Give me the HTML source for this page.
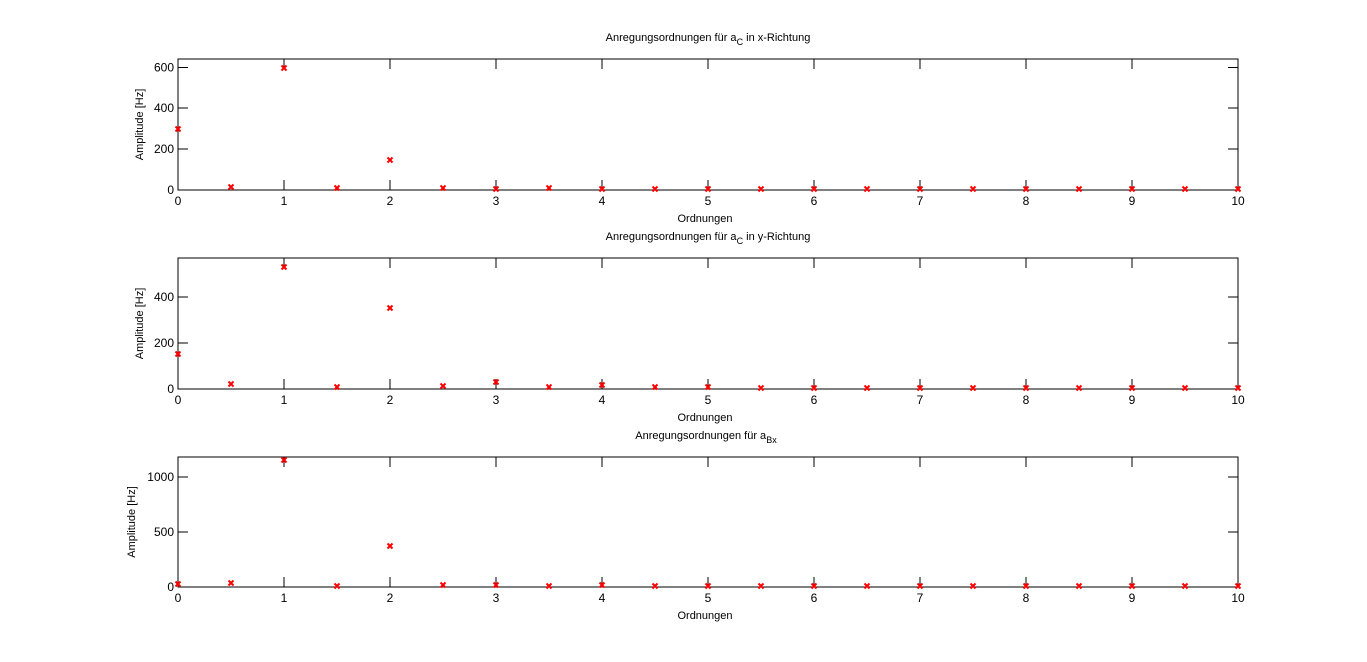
<!DOCTYPE html>
<html><head><meta charset="utf-8"><style>
html,body{margin:0;padding:0;background:#fff;}
svg{display:block;font-family:"Liberation Sans",sans-serif;}
</style></head><body>
<svg id="s" width="1367" height="662" xmlns="http://www.w3.org/2000/svg"></svg>
<script>
var s=document.getElementById('s'),h='';
var X0=178,X1=1238;
function px(x){return X0+x*(X1-X0)/10;}
var plots=[
 {top:59,bot:190,title:'Anregungsordnungen für a',sub:'C',suf:' in x-Richtung',tx:708,
  yt:[[0,190],[200,149],[400,108],[600,67.5]],
  pts:[129,187,68,188,160,188,189,188,189,189,189,189,189,189,189,189,189,189,189,189,189]},
 {top:258,bot:389,title:'Anregungsordnungen für a',sub:'C',suf:' in y-Richtung',tx:708,
  yt:[[0,389],[200,343],[400,297]],
  pts:[354,384,267,387,308,386,382,387,385,387,387,388,388,388,388,388,388,388,388,388,388]},
 {top:457,bot:587,title:'Anregungsordnungen für a',sub:'Bx',suf:'',tx:706,
  yt:[[0,587],[500,532],[1000,477]],
  pts:[584,583,460,586,546,585,585,586,585,586,586,586,586,586,586,586,586,586,586,586,586]}
];
plots.forEach(function(p){
 h+='<rect x="'+X0+'" y="'+p.top+'" width="'+(X1-X0)+'" height="'+(p.bot-p.top)+'" fill="none" stroke="#000" stroke-width="1"/>';
 for(var i=0;i<=10;i++){var x=px(i);
  h+='<line x1="'+x+'" y1="'+p.bot+'" x2="'+x+'" y2="'+(p.bot-10)+'" stroke="#000"/>';
  h+='<line x1="'+x+'" y1="'+p.top+'" x2="'+x+'" y2="'+(p.top+10)+'" stroke="#000"/>';
  h+='<text x="'+x+'" y="'+(p.bot+15)+'" font-size="12" text-anchor="middle">'+i+'</text>';}
 p.yt.forEach(function(t){
  h+='<line x1="'+X0+'" y1="'+t[1]+'" x2="'+(X0+10)+'" y2="'+t[1]+'" stroke="#000"/>';
  h+='<line x1="'+X1+'" y1="'+t[1]+'" x2="'+(X1-10)+'" y2="'+t[1]+'" stroke="#000"/>';
  h+='<text x="'+(X0-4)+'" y="'+(t[1]+4)+'" font-size="12" text-anchor="end">'+t[0]+'</text>';});
 h+='<text x="'+p.tx+'" y="'+(p.top-18)+'" font-size="11" text-anchor="middle">'+p.title+'<tspan font-size="9" dy="4">'+p.sub+'</tspan><tspan dy="-4">'+p.suf+'</tspan></text>';
 h+='<text x="705" y="'+(p.bot+32)+'" font-size="11" text-anchor="middle">Ordnungen</text>';
 var cy=(p.top+p.bot)/2;
 h+='<text transform="translate('+(p===plots[2]?135:143)+','+cy+') rotate(-90)" font-size="11" text-anchor="middle">Amplitude [Hz]</text>';
 p.pts.forEach(function(y,i){var x=px(i*0.5);
  h+='<path d="M'+(x-2.5)+' '+(y-2.5)+'L'+(x+2.5)+' '+(y+2.5)+'M'+(x-2.5)+' '+(y+2.5)+'L'+(x+2.5)+' '+(y-2.5)+'" stroke="#f00" stroke-width="2"/>';});
});
s.innerHTML=h;
</script>
</body></html>
